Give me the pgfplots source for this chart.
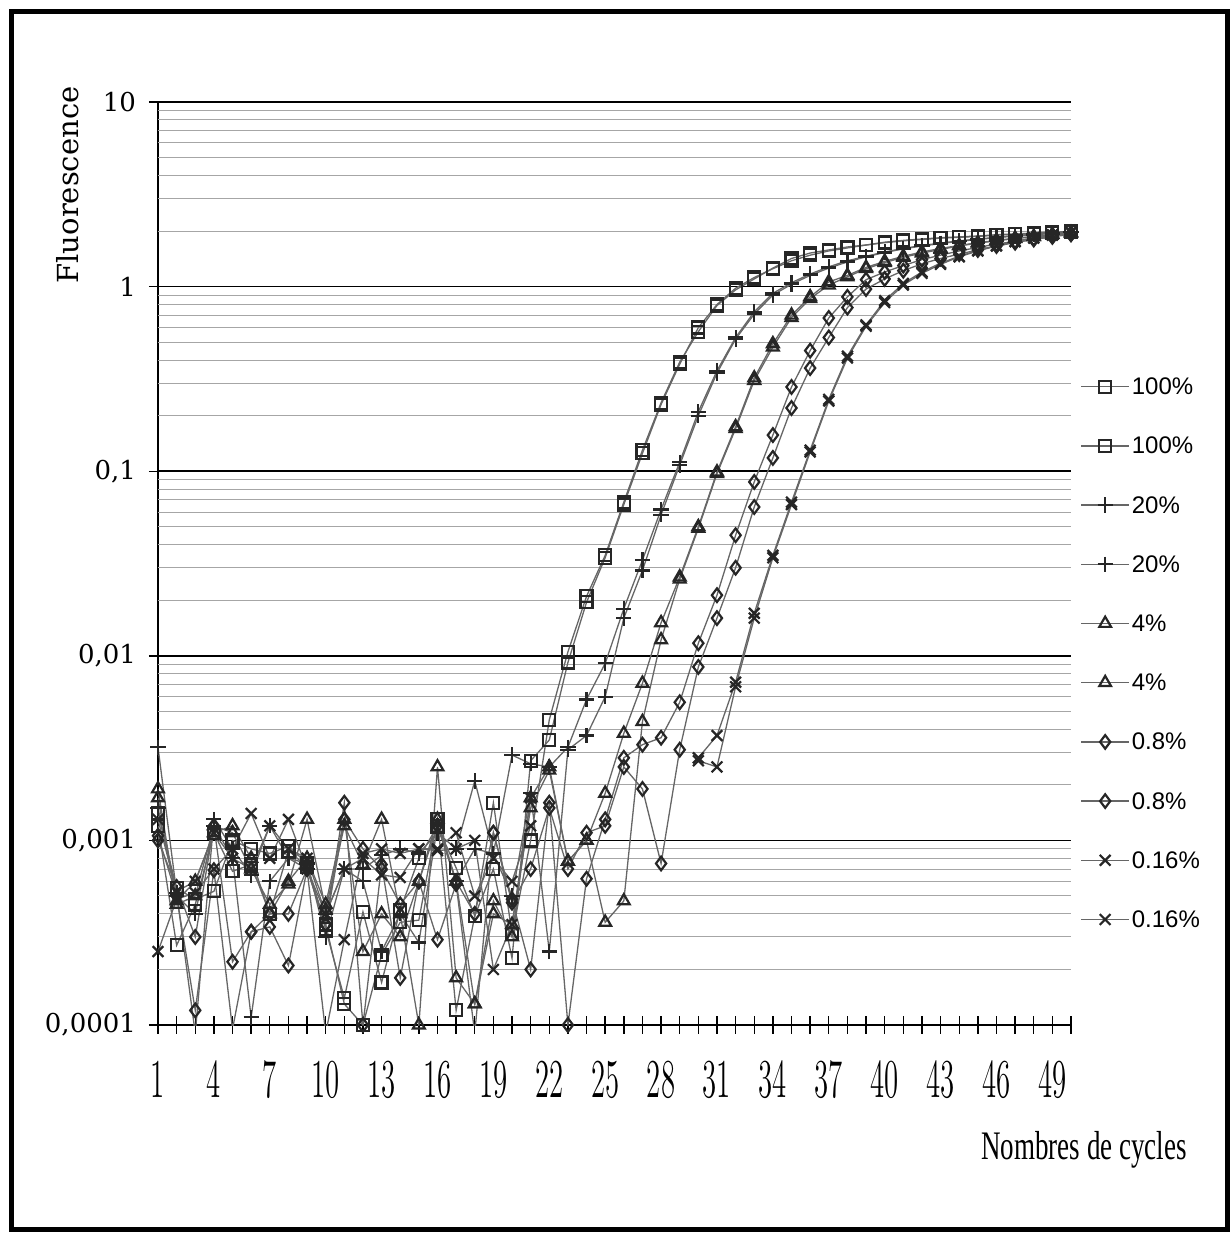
\documentclass[border=0pt]{standalone}
\usepackage{fontspec}
\setmainfont{DejaVu Serif}
\newfontfamily\xfont{Liberation Serif}
\newfontfamily\legfont{Liberation Sans}
\usepackage{pgfplots}
\usepackage{pgfplotstable}
\pgfplotsset{compat=1.18}

% cycle, then 100% (x2), 20% (x2), 4% (x2), 0.8% (x2), 0.16% (x2)
\pgfplotstableread{
c s1 s2 s3 s4 s5 s6 s7 s8 s9 s10
1 0.0014 0.0012 0.0032 0.0015 0.0019 0.0017 0.00106 0.001 0.00025 0.0013
2 0.00055 0.00027 0.00052 0.0005 0.00045 0.00047 0.0005 0.00056 0.00048 0.00053
3 0.00048 0.00045 0.00009 0.0004 0.0005 0.0006 0.00012 0.0003 0.00052 0.0006
4 0.00053 0.0011 0.0013 0.0012 0.0012 0.0011 0.00069 0.0012 0.0007 0.0011
5 0.001 0.00068 0.0009 0.0008 0.0011 0.0012 0.000095 0.00022 0.0009 0.0008
6 0.0009 0.00074 0.00065 0.00011 0.0007 0.0008 0.00032 0.00032 0.0014 0.0007
7 0.00085 0.0004 0.0012 0.0006 0.00045 0.0004 0.00034 0.0004 0.0008 0.0012
8 0.00093 0.00088 0.0008 0.0008 0.00058 0.0006 0.00021 0.0004 0.0013 0.0009
9 0.00075 0.00072 0.0007 0.00075 0.0013 0.0008 0.0007 0.0007 0.0007 0.0008
10 0.00033 0.00035 0.0004 0.0003 0.00042 0.00045 0.00035 0.00035 0.00009 0.0004
11 0.00014 0.00013 0.0007 0.0007 0.0012 0.0013 0.0016 0.0013 0.00029 0.0007
12 0.00041 0.0001 0.0007 0.0006 0.00074 0.00025 0.0001 0.0009 0.00085 0.0008
13 0.00017 0.00024 0.00083 0.00025 0.0013 0.0004 0.00074 0.0007 0.0009 0.00065
14 0.00042 0.00036 0.0009 0.0004 0.0004 0.0003 0.00018 0.00045 0.00085 0.00063
15 0.0008 0.00037 0.00085 0.00028 0.0001 0.0006 0.0006 0.0006 0.0009 0.0009
16 0.0012 0.0013 0.0011 0.0012 0.0025 0.0013 0.00029 0.0012 0.00088 0.0009
17 0.00071 0.00012 0.0009 0.0006 0.00018 0.0006 0.00058 0.0006 0.0009 0.0011
18 0.00039 0.00039 0.0021 0.0009 0.00013 0.00013 0.00009 0.0004 0.001 0.0005
19 0.0016 0.0007 0.00085 0.00085 0.00047 0.0004 0.0011 0.0011 0.0002 0.0008
20 0.00031 0.00023 0.0029 0.0005 0.0003 0.00035 0.00048 0.00046 0.00035 0.0006
21 0.001 0.0027 0.0026 0.0018 0.0017 0.0015 0.0002 0.0007 0.0017 0.0012
22 0.0045 0.0035 0.0025 0.00025 0.0025 0.0024 0.0016 0.0015 nan nan
23 0.0105 0.0092 0.0032 0.0031 0.00077 0.00077 0.0001 0.0007 nan nan
24 0.021 0.0195 0.0058 0.0037 0.001 0.001 0.00062 0.0011 nan nan
25 0.035 0.034 0.0091 0.006 0.0018 0.00036 0.0013 0.0012 nan nan
26 0.068 0.066 0.018 0.016 0.0038 0.00047 0.0028 0.0025 nan nan
27 0.13 0.125 0.033 0.029 0.0071 0.0044 0.0033 0.0019 nan nan
28 0.235 0.23 0.062 0.058 0.0151 0.0122 0.0036 0.00075 nan nan
29 0.39 0.38 0.112 0.108 0.0267 0.026 0.0056 0.0031 nan nan
30 0.57 0.6 0.21 0.2 0.05 0.049 0.0117 0.0087 0.0027 0.0028
31 0.79 0.8 0.35 0.34 0.099 0.097 0.0213 0.016 0.0025 0.0037
32 0.96 0.98 0.53 0.52 0.174 0.17 0.045 0.03 0.0068 0.0072
33 1.1 1.12 0.73 0.71 0.32 0.31 0.0875 0.064 0.016 0.017
34 1.26 1.25 0.92 0.9 0.49 0.47 0.157 0.118 0.034 0.035
35 1.42 1.38 1.05 1.03 0.7 0.68 0.286 0.22 0.066 0.068
36 1.52 1.48 1.17 1.15 0.88 0.86 0.45 0.362 0.127 0.13
37 1.58 1.56 1.28 1.26 1.06 1.02 0.676 0.53 0.24 0.245
38 1.64 1.62 1.38 1.36 1.15 1.13 0.88 0.77 0.41 0.42
39 1.68 1.68 1.46 1.45 1.27 1.25 1.09 0.97 0.61 0.62
40 1.73 1.74 1.54 1.53 1.37 1.35 1.2 1.1 0.82 0.84
41 1.77 1.78 1.61 1.6 1.46 1.44 1.3 1.22 1.02 1.04
42 1.8 1.81 1.67 1.66 1.54 1.52 1.4 1.33 1.18 1.2
43 1.83 1.84 1.72 1.71 1.61 1.59 1.48 1.42 1.32 1.34
44 1.85 1.86 1.77 1.76 1.67 1.66 1.56 1.5 1.45 1.46
45 1.87 1.88 1.81 1.8 1.73 1.72 1.63 1.58 1.56 1.57
46 1.9 1.91 1.85 1.84 1.78 1.77 1.7 1.66 1.66 1.67
47 1.92 1.93 1.89 1.88 1.83 1.82 1.76 1.73 1.75 1.76
48 1.94 1.95 1.92 1.91 1.87 1.86 1.82 1.8 1.83 1.84
49 1.96 1.97 1.95 1.94 1.92 1.91 1.88 1.86 1.9 1.91
50 1.98 1.99 1.98 1.97 1.96 1.95 1.93 1.92 1.96 1.97
}\qpcr

\begin{document}
\begin{tikzpicture}
\useasboundingbox (-79pt,-105.5pt) rectangle (536.5pt,512.5pt);
\begin{axis}[
  scale only axis, width=456.5pt, height=461.5pt,
  ymode=log, ymin=1e-4, ymax=10, xmin=1, xmax=50,
  unbounded coords=jump,
  axis x line*=bottom, axis y line*=left,
  axis line style={black, line width=0.9pt, -},
  xtick={1,4,...,49}, minor xtick={1,...,50},
  tick align=center, major tick length=9pt, minor tick length=9pt,
  tick style={black, line width=0.7pt},
  ytick={1e-4,1e-3,1e-2,1e-1,1,10},
  yticklabels={{0,0001},{0,001},{0,01},{0,1},1,10},
  yminorticks=false,
  extra y ticks={2e-4,3e-4,4e-4,5e-4,6e-4,7e-4,8e-4,9e-4,
    2e-3,3e-3,4e-3,5e-3,6e-3,7e-3,8e-3,9e-3,
    2e-2,3e-2,4e-2,5e-2,6e-2,7e-2,8e-2,9e-2,
    0.2,0.3,0.4,0.5,0.6,0.7,0.8,0.9,2,3,4,5,6,7,8,9},
  extra y tick labels={},
  extra y tick style={major tick length=0pt, major grid style={black!35, line width=0.5pt}},
  ymajorgrids, major grid style={black, line width=0.8pt},
  yticklabel style={font=\fontsize{13}{13}\selectfont, xshift=-3pt},
  xticklabel style={font=\xfont\fontsize{15}{15}\selectfont, yscale=1.9, yshift=-4pt},
  every axis plot/.append style={line width=0.65pt, color=black!60},
  legend style={draw=none, fill=none, at={(1.01,0.705)}, anchor=north west,
    font=\legfont\fontsize{12}{12}\selectfont, row sep=17.6pt, inner sep=0pt,
    nodes={inner sep=1pt, text height=9pt, text depth=1pt}},
  legend cell align=left,
  legend image code/.code={\draw[mark repeat=2,mark phase=2,#1] plot coordinates {(0pt,0pt) (12pt,0pt) (24pt,0pt)};},
]
\addplot[mark=square, mark size=3pt, mark options={solid, draw=black!85, line width=1.1pt}] table[x=c,y=s1]{\qpcr};
\addlegendentry{100\%}
\addplot[mark=square, mark size=3pt, mark options={solid, draw=black!85, line width=1.1pt}] table[x=c,y=s2]{\qpcr};
\addlegendentry{100\%}
\addplot[mark=+, mark size=3.8pt, mark options={solid, draw=black!85, line width=1.1pt}] table[x=c,y=s3]{\qpcr};
\addlegendentry{20\%}
\addplot[mark=+, mark size=3.8pt, mark options={solid, draw=black!85, line width=1.1pt}] table[x=c,y=s4]{\qpcr};
\addlegendentry{20\%}
\addplot[mark=triangle, mark size=3.4pt, mark options={solid, draw=black!85, line width=1.1pt}] table[x=c,y=s5]{\qpcr};
\addlegendentry{4\%}
\addplot[mark=triangle, mark size=3.4pt, mark options={solid, draw=black!85, line width=1.1pt}] table[x=c,y=s6]{\qpcr};
\addlegendentry{4\%}
\addplot[mark=diamond, mark size=3.4pt, mark options={solid, draw=black!85, line width=1.1pt}] table[x=c,y=s7]{\qpcr};
\addlegendentry{0.8\%}
\addplot[mark=diamond, mark size=3.4pt, mark options={solid, draw=black!85, line width=1.1pt}] table[x=c,y=s8]{\qpcr};
\addlegendentry{0.8\%}
\addplot[mark=x, mark size=3.8pt, mark options={solid, draw=black!85, line width=1.1pt}] table[x=c,y=s9]{\qpcr};
\addlegendentry{0.16\%}
\addplot[mark=x, mark size=3.8pt, mark options={solid, draw=black!85, line width=1.1pt}] table[x=c,y=s10]{\qpcr};
\addlegendentry{0.16\%}
\end{axis}
\node[rotate=90, font=\fontsize{14.5}{14.5}\selectfont] at (-45pt,420pt) {Fluorescence};
\node[font=\xfont\fontsize{13.5}{13.5}\selectfont, yscale=1.5] at (463pt,-62.5pt) {Nombres de cycles};
\draw[line width=2.5pt] (-73pt,-102pt) rectangle (534.5pt,506.5pt);
\end{tikzpicture}
\end{document}
